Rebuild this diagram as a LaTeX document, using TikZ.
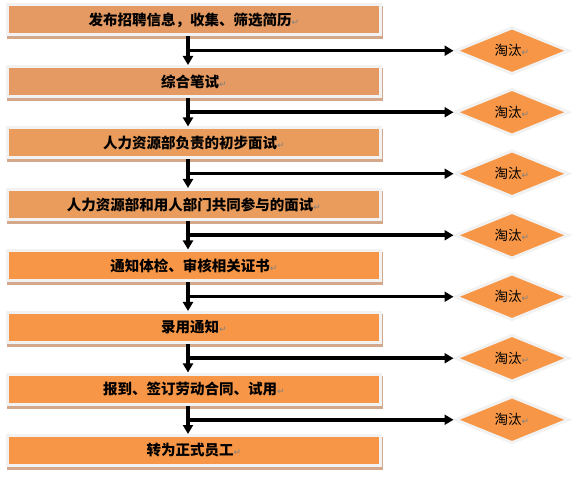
\documentclass[tikz,border=0pt]{standalone}
\usepackage{fontspec}
\newfontfamily\cjk{Noto Sans CJK SC}
\newfontfamily\symfont{DejaVu Sans}
\usetikzlibrary{shapes.geometric, arrows.meta, positioning, calc, shadows}
\definecolor{cOrangeA}{RGB}{228,154,98}
\definecolor{cOrangeB}{RGB}{234,156,92}
\definecolor{cOrange}{RGB}{247,150,70}
\definecolor{cFrame}{RGB}{242,242,242}
\definecolor{cShadow}{RGB}{212,168,138}
\newcommand{\pmark}{{\mdseries\symfont\fontsize{9bp}{9bp}\selectfont\color{gray}\char"21B5}}
\tikzset{
	stepbox/.style={rectangle, draw=cFrame, line width=3bp, minimum width=373bp, minimum height=30bp, inner sep=0pt, text centered,
		font=\cjk\bfseries\fontsize{14.5bp}{16bp}\selectfont,
		drop shadow={shadow xshift=1bp, shadow yshift=-3bp, fill=cShadow, draw=cShadow, line width=3bp, opacity=1}},
	reject/.style={diamond, draw=cFrame, line width=3bp, fill=cOrange, minimum width=114bp, minimum height=45bp, inner sep=0pt,
		font=\cjk\fontsize{13.5bp}{15bp}\selectfont},
	flowarrow/.style={-{Triangle[length=9bp, width=10bp]}, line width=3.5bp},
}
\begin{document}
\begin{tikzpicture}[x=1bp, y=1bp, node distance=28.5bp]
	\useasboundingbox (0,0) rectangle (584,480);
	\node[stepbox, fill=cOrangeA] (s1) at (194,460) {发布招聘信息，收集、筛选简历\pmark};
	\node[stepbox, fill=cOrangeA, below=of s1] (s2) {综合笔试\pmark};
	\node[stepbox, fill=cOrangeB, below=of s2] (s3) {人力资源部负责的初步面试\pmark};
	\node[stepbox, fill=cOrangeB, below=of s3] (s4) {人力资源部和用人部门共同参与的面试\pmark};
	\node[stepbox, fill=cOrange, below=of s4] (s5) {通知体检、审核相关证书\pmark};
	\node[stepbox, fill=cOrange, below=of s5] (s6) {录用通知\pmark};
	\node[stepbox, fill=cOrange, below=of s6] (s7) {报到、签订劳动合同、试用\pmark};
	\node[stepbox, fill=cOrange, below=of s7] (s8) {转为正式员工\pmark};
	% rejection branch between each pair of steps
	\foreach \i [evaluate=\i as \j using int(\i+1)] in {1,...,7} {
		\coordinate (j\i) at ($(s\i)!0.5!(s\j)+(-6,0)$);
		\node[reject] (r\i) at ($(j\i)+(324,0)$) {淘汰\pmark};
		\draw[flowarrow] (s\i.south -| j\i) -- (s\j.north -| j\i);
		\draw[flowarrow] (j\i) -- (r\i.west);
	}
\end{tikzpicture}
\end{document}
